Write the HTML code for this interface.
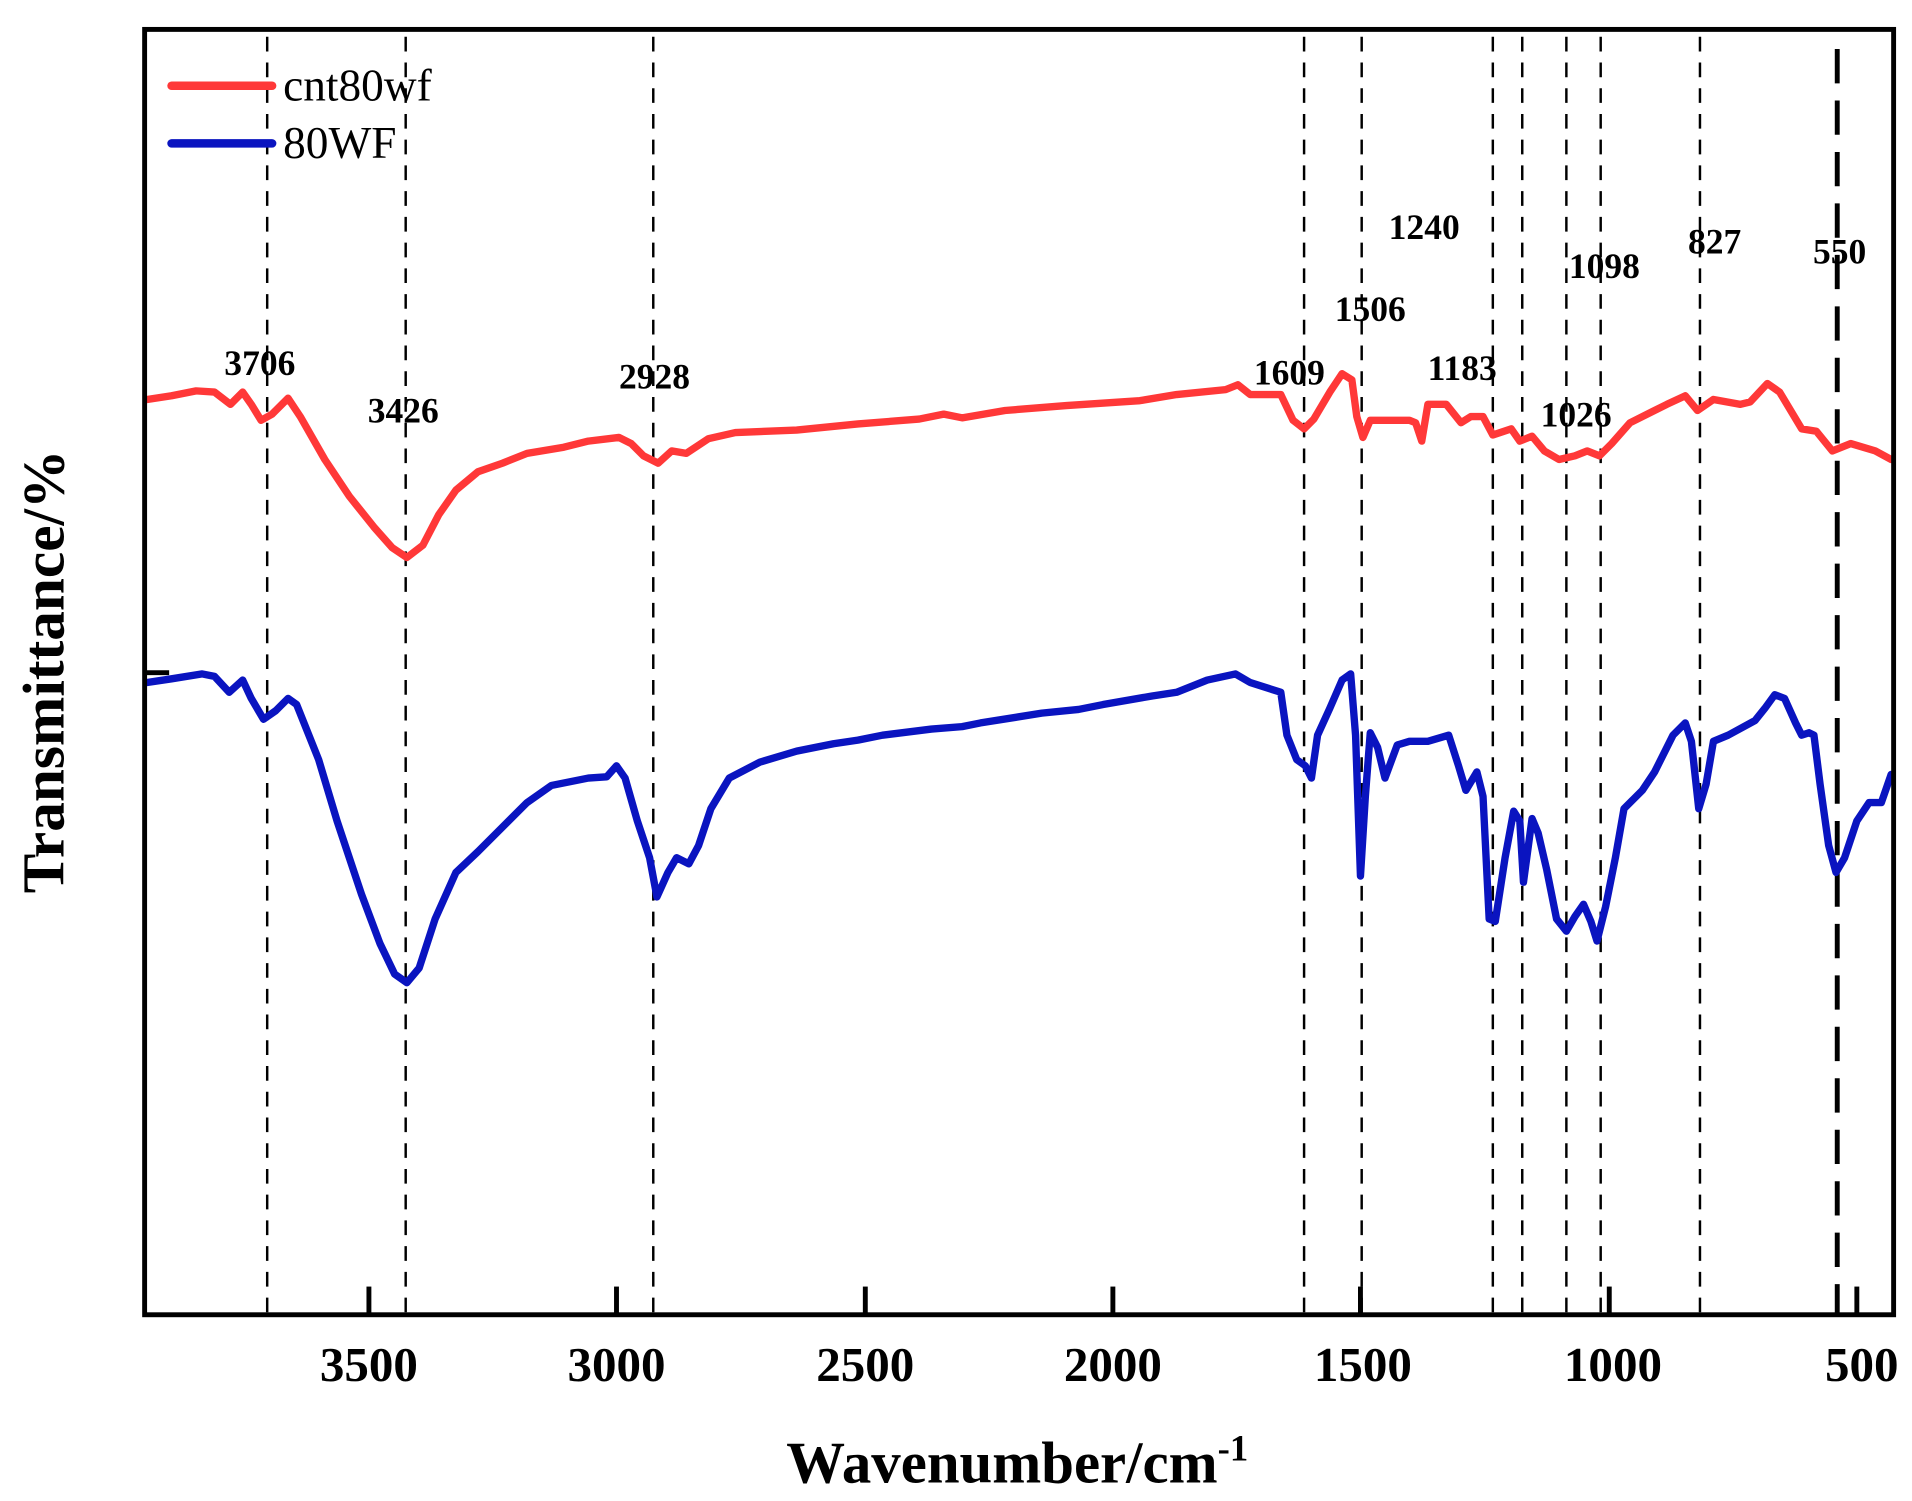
<!DOCTYPE html>
<html><head><meta charset="utf-8"><style>html,body{margin:0;padding:0;background:#fff}svg{display:block}</style></head>
<body>
<svg width="1912" height="1501" viewBox="0 0 1560 1225" preserveAspectRatio="none" xmlns="http://www.w3.org/2000/svg" font-family="Liberation Serif, serif">
<rect width="1560" height="1225" fill="#fff"/>
<g stroke="#000" stroke-width="2" stroke-dasharray="12,9" fill="none">
<line x1="218" y1="30" x2="218" y2="1073"/><line x1="331" y1="30" x2="331" y2="1073"/><line x1="533" y1="30" x2="533" y2="1073"/>
<line x1="1064" y1="30" x2="1064" y2="1073"/><line x1="1111" y1="30" x2="1111" y2="1073"/><line x1="1218" y1="30" x2="1218" y2="1073"/>
<line x1="1242" y1="30" x2="1242" y2="1073"/><line x1="1278" y1="30" x2="1278" y2="1073"/><line x1="1306" y1="30" x2="1306" y2="1073"/>
<line x1="1387" y1="30" x2="1387" y2="1073"/><line x1="1499" y1="40" x2="1499" y2="1073" stroke-width="4" stroke-dasharray="28,14"/>
</g>
<polyline fill="none" stroke="#ff3838" stroke-width="6" stroke-linejoin="round" stroke-linecap="round" points="120,326 140,323 160,319 175,320 188,330 198,320 205,330 213,343 222,338 235,325 245,340 265,375 285,405 305,430 320,447 332,455 345,445 358,420 372,400 390,385 410,378 430,370 460,365 480,360 505,357 515,362 525,372 537,378 548,368 560,370 578,358 600,353 650,351 700,346 750,342 770,338 785,341 820,335 870,331 930,327 960,322 1000,318 1010,314 1020,322 1045,322 1055,343 1064,350 1072,342 1085,320 1095,305 1103,310 1107,340 1112,357 1118,343 1150,343 1155,345 1160,360 1165,330 1180,330 1192,345 1200,340 1210,340 1218,355 1233,350 1240,360 1250,356 1260,368 1272,375 1285,372 1295,368 1305,372 1315,362 1330,345 1360,330 1375,323 1385,335 1398,326 1420,330 1428,328 1442,313 1452,320 1470,350 1482,352 1495,368 1510,362 1530,368 1543,375"/>
<polyline fill="none" stroke="#0a14c0" stroke-width="6" stroke-linejoin="round" stroke-linecap="round" points="120,557 140,554 165,550 175,552 187,565 198,555 205,570 215,587 225,580 235,570 242,575 260,620 275,670 295,730 310,770 322,795 332,802 342,790 355,750 372,712 390,695 410,675 430,655 450,641 480,635 495,634 503,625 510,635 520,670 530,700 536,732 545,712 552,700 562,705 570,690 580,660 595,635 620,622 650,613 680,607 700,604 720,600 760,595 785,593 800,590 850,582 880,579 900,575 940,568 960,565 985,555 1008,550 1020,557 1045,565 1050,600 1058,620 1065,625 1070,635 1075,600 1085,578 1095,555 1102,550 1106,600 1110,715 1114,650 1118,598 1124,610 1130,635 1140,608 1150,605 1165,605 1182,600 1190,625 1196,645 1205,630 1210,650 1215,750 1220,752 1228,700 1235,662 1240,670 1243,720 1250,668 1255,680 1262,710 1270,750 1278,760 1285,748 1292,738 1298,752 1303,768 1310,740 1318,700 1325,660 1340,645 1350,630 1365,600 1375,590 1380,605 1386,660 1392,640 1398,605 1410,600 1432,588 1440,578 1448,567 1456,570 1465,590 1470,600 1476,598 1480,600 1485,640 1492,690 1498,712 1505,700 1515,670 1525,655 1535,655 1543,632"/>
<rect x="118" y="24" width="1427" height="1049" fill="none" stroke="#000" stroke-width="4"/>
<g stroke="#000" stroke-width="4">
<line x1="301" y1="1073" x2="301" y2="1050"/><line x1="503" y1="1073" x2="503" y2="1050"/><line x1="706" y1="1073" x2="706" y2="1050"/>
<line x1="908" y1="1073" x2="908" y2="1050"/><line x1="1110" y1="1073" x2="1110" y2="1050"/><line x1="1313" y1="1073" x2="1313" y2="1050"/>
<line x1="1515" y1="1073" x2="1515" y2="1050"/><line x1="118" y1="549" x2="138" y2="549"/>
</g>
<g font-weight="bold" font-size="40" text-anchor="middle">
<text x="301" y="1127">3500</text><text x="503" y="1127">3000</text><text x="706" y="1127">2500</text>
<text x="908" y="1127">2000</text><text x="1112" y="1127">1500</text><text x="1316" y="1127">1000</text><text x="1519" y="1127">500</text>
</g>
<text x="830" y="1210" font-weight="bold" font-size="48" text-anchor="middle">Wavenumber/cm<tspan font-size="30" dy="-18">-1</tspan></text>
<text transform="translate(52,548) rotate(-90)" font-weight="bold" font-size="48" text-anchor="middle" textLength="362" lengthAdjust="spacingAndGlyphs">Transmittance/%</text>
<line x1="140" y1="70" x2="222" y2="70" stroke="#ff3838" stroke-width="7" stroke-linecap="round"/>
<line x1="140" y1="117" x2="222" y2="117" stroke="#0a14c0" stroke-width="7" stroke-linecap="round"/>
<text x="231" y="82" font-size="37">cnt80wf</text>
<text x="231" y="129" font-size="37">80WF</text>
<g font-weight="bold" font-size="29" text-anchor="middle">
<text x="212" y="306">3706</text><text x="329" y="345">3426</text><text x="534" y="317">2928</text>
<text x="1052" y="314">1609</text><text x="1118" y="262">1506</text><text x="1162" y="195">1240</text>
<text x="1193" y="310">1183</text><text x="1309" y="227">1098</text><text x="1286" y="348">1026</text>
<text x="1399" y="207">827</text><text x="1501" y="215">550</text>
</g>
</svg>
</body></html>
